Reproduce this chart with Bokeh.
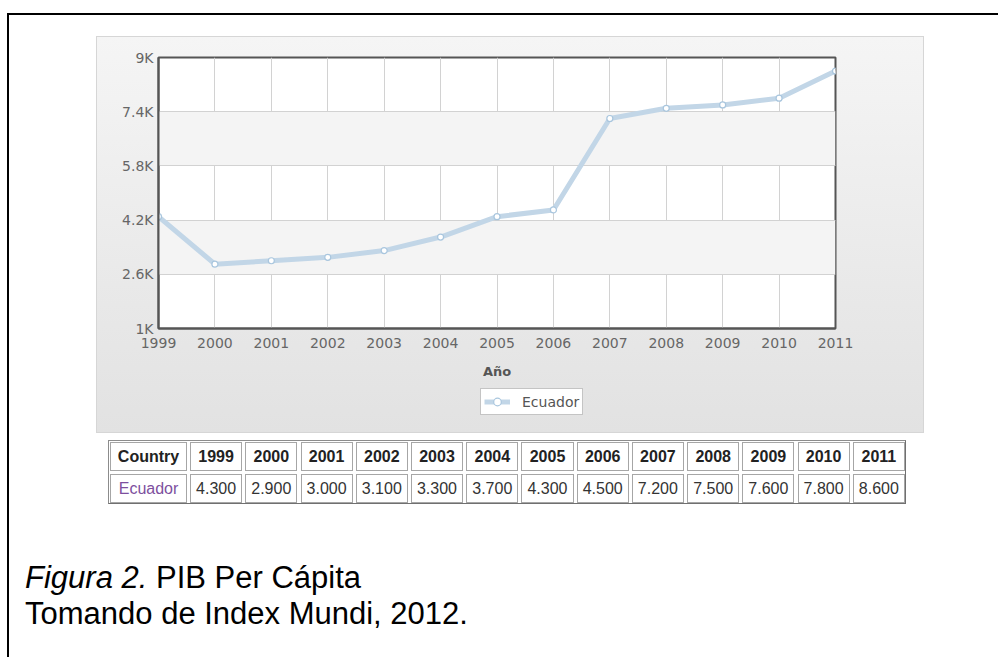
from bokeh.plotting import figure
from bokeh.models import Range1d, FixedTicker, Legend, LegendItem, Div, Spacer
from bokeh.layouts import column, row
from bokeh.embed import file_html
from bokeh.resources import INLINE

# ---------------- data ----------------
years = [1999, 2000, 2001, 2002, 2003, 2004, 2005, 2006, 2007, 2008, 2009, 2010, 2011]
gdp = [4300, 2900, 3000, 3100, 3300, 3700, 4300, 4500, 7200, 7500, 7600, 7800, 8600]
y_ticks = [1000, 2600, 4200, 5800, 7400, 9000]
y_tick_labels = ["1K", "2.6K", "4.2K", "5.8K", "7.4K", "9K"]
country = "Ecuador"
x_title = "Año"
table_header = "Country"
caption_fig = "Figura 2."
caption_title = "PIB Per Cápita"
caption_source = "Tomando de Index Mundi, 2012."

# ---------------- layout constants (page px) ----------------
W, H = 998, 657
PX0, PY0, PX1, PY1 = 96, 36, 924, 433        # grey chart panel
SPLIT = 388                                   # chart part / legend part of the panel
FL, FR, FT, FB = 158, 835, 57, 328           # plot frame
LEG_X, LEG_Y1 = 480, 415                      # legend box left / bottom
TAB_X0, TAB_X1 = 108, 906
TAB_ROWS = [440, 472, 504]
COUNTRY_W = 80
LINE_X, LINE_Y = 7, 13                        # black page border
EDGE = "#d6d6d6"
LINE_COLOR, PT_LINE = "#c2d6e7", "#a9c6de"

# ---------------- chart ----------------
p = figure(width=PX1 - PX0, height=SPLIT - PY0,
           x_range=Range1d(1999, 2011), y_range=Range1d(1000, 9000),
           output_backend="svg", toolbar_location=None,
           min_border_left=FL - PX0, min_border_right=PX1 - FR,
           min_border_top=FT - PY0, min_border_bottom=SPLIT - FB,
           margin=(0, 0, 0, 0),
           styles={"background": "linear-gradient(#f5f5f5, #e4e4e4)",
                   "box-shadow": f"inset 1px 0 0 {EDGE}, inset -1px 0 0 {EDGE}, inset 0 1px 0 {EDGE}"})
p.border_fill_color = None
p.background_fill_color = "white"
p.outline_line_color = "#555555"
p.outline_line_width = 2

for ax in (p.xaxis[0], p.yaxis[0]):
    ax.axis_line_color = "#555555"
    ax.axis_line_width = 2
    ax.major_tick_line_color = None
    ax.minor_tick_line_color = None
    ax.major_tick_out = 0
    ax.major_tick_in = 0
    ax.major_label_text_font = "DejaVu Sans"
    ax.major_label_text_font_size = "14px"
    ax.major_label_text_color = "#666666"

p.xaxis.ticker = FixedTicker(ticks=years)
p.xaxis.major_label_overrides = {y: str(y) for y in years}
p.xaxis.major_label_standoff = 9
p.xaxis.axis_label = x_title
p.xaxis.axis_label_text_font = "DejaVu Sans"
p.xaxis.axis_label_text_font_style = "bold"
p.xaxis.axis_label_text_font_size = "13px"
p.xaxis.axis_label_text_color = "#555555"
p.xaxis.axis_label_standoff = 13

p.yaxis.ticker = FixedTicker(ticks=y_ticks)
p.yaxis.major_label_overrides = dict(zip(y_ticks, y_tick_labels))
p.yaxis.major_label_standoff = 5

p.xgrid.grid_line_color = "#d2d2d2"
p.ygrid.grid_line_color = "#d2d2d2"
p.ygrid.band_fill_color = "#f4f4f4"
p.ygrid.band_fill_alpha = 1

p.line(years, gdp, line_color=LINE_COLOR, line_width=5)
p.scatter(years, gdp, size=6, fill_color="white", line_color=PT_LINE, line_width=1.2)

# ---------------- legend strip (lower part of the grey panel) ----------------
# (its frame is aligned with the chart frame by the column layout)
lf = figure(width=PX1 - PX0, height=PY1 - SPLIT, x_range=Range1d(0, 1), y_range=Range1d(0, 1),
            x_axis_location=None, y_axis_location=None, min_border=0,
            output_backend="svg", toolbar_location=None, margin=(0, 0, 0, 0),
            styles={"background": "linear-gradient(#e4e4e4, #e2e2e2)",
                    "box-shadow": f"inset 1px 0 0 {EDGE}, inset -1px 0 0 {EDGE}, inset 0 -1px 0 {EDGE}"})
lf.border_fill_color = None
lf.background_fill_color = None
lf.outline_line_color = None
lf.grid.visible = False
# same series, outside this strip's ranges: only used to draw the legend glyph
l_line = lf.line(years, gdp, line_color=LINE_COLOR, line_width=5)
l_pts = lf.scatter(years, gdp, size=6, fill_color="white", line_color=PT_LINE, line_width=1.2)
legend = Legend(items=[LegendItem(label=country, renderers=[l_line, l_pts])],
                location=(LEG_X - FL, PY1 - LEG_Y1),
                background_fill_color="white", background_fill_alpha=1,
                border_line_color="#8a8a8a", border_line_width=1,
                label_text_font="DejaVu Sans", label_text_font_size="14px",
                label_text_color="#555555",
                glyph_width=26, glyph_height=19, label_height=19,
                label_standoff=12, padding=3, margin=0, spacing=0)
lf.add_layout(legend)

# ---------------- page decorations (HTML) ----------------
BL = "position:absolute;background:#000;"


def vline(h):
    return f'<div style="{BL}left:{LINE_X}px;top:0px;width:2px;height:{h}px;"></div>'


top_html = (f'<div style="position:relative;width:{W}px;height:{PY0}px;">'
            f'<div style="{BL}left:{LINE_X}px;top:{LINE_Y}px;width:{W - LINE_X}px;height:2px;"></div>'
            f'<div style="{BL}left:{LINE_X}px;top:{LINE_Y}px;width:2px;height:{PY0 - LINE_Y}px;"></div>'
            '</div>')
top_div = Div(text=top_html, width=W, height=PY0, margin=(0, 0, 0, 0))

left_div = Div(text=f'<div style="position:relative;width:{PX0}px;height:{PY1 - PY0}px;">{vline(PY1 - PY0)}</div>',
               width=PX0, height=PY1 - PY0, margin=(0, 0, 0, 0))
right_sp = Spacer(width=W - PX1, height=PY1 - PY0, margin=(0, 0, 0, 0))

# table + caption
BH = H - PY1
year_w = (TAB_X1 - TAB_X0 - COUNTRY_W) / len(years)
edges = [TAB_X0, TAB_X0 + COUNTRY_W] + [TAB_X0 + COUNTRY_W + year_w * (i + 1) for i in range(len(years))]
header = [table_header] + [str(y) for y in years]
values = [country] + [f"{v / 1000:.3f}" for v in gdp]
FONT = "font-family:'Liberation Sans',Arial,sans-serif;"

parts = [f'<div style="position:relative;width:{W}px;height:{BH}px;{FONT}">', vline(BH)]
parts.append(f'<div style="position:absolute;box-sizing:border-box;left:{TAB_X0}px;top:{TAB_ROWS[0] - PY1}px;'
             f'width:{TAB_X1 - TAB_X0}px;height:{TAB_ROWS[-1] - TAB_ROWS[0]}px;'
             f'border:1px solid #8c8c8c;border-right-color:#707070;border-bottom-color:#707070;background:#fff;"></div>')
for r, (row_txt, bold) in enumerate([(header, True), (values, False)]):
    y0 = TAB_ROWS[r] + 2 - PY1
    h = TAB_ROWS[r + 1] - TAB_ROWS[r] - 3
    for c in range(len(edges) - 1):
        x0 = edges[c] + 2
        w = edges[c + 1] - 1 - x0
        color = "#222" if bold else ("#7d4f9e" if c == 0 else "#333")
        weight = "bold" if bold else "normal"
        parts.append(f'<div style="position:absolute;box-sizing:border-box;left:{x0:.1f}px;top:{y0}px;'
                     f'width:{w:.1f}px;height:{h}px;border:1px solid #a6a6a6;'
                     f'text-align:center;line-height:{h - 2}px;font-size:16px;font-weight:{weight};'
                     f'color:{color};white-space:nowrap;">{row_txt[c]}</div>')

CAP = "position:absolute;font-size:31px;line-height:31px;color:#000;white-space:nowrap;"
parts.append(f'<div style="{CAP}left:25px;top:{588 - 26 - PY1}px;">'
             f'<i>{caption_fig}</i> {caption_title}</div>')
parts.append(f'<div style="{CAP}left:25px;top:{624 - 26 - PY1}px;">{caption_source}</div>')
parts.append('</div>')
bottom_div = Div(text="".join(parts), width=W, height=BH, margin=(0, 0, 0, 0))

panel = column(p, lf, spacing=0)
root = column(top_div, row(left_div, panel, right_sp, spacing=0), bottom_div, spacing=0)

open("out.html", "w").write(file_html(root, INLINE))
